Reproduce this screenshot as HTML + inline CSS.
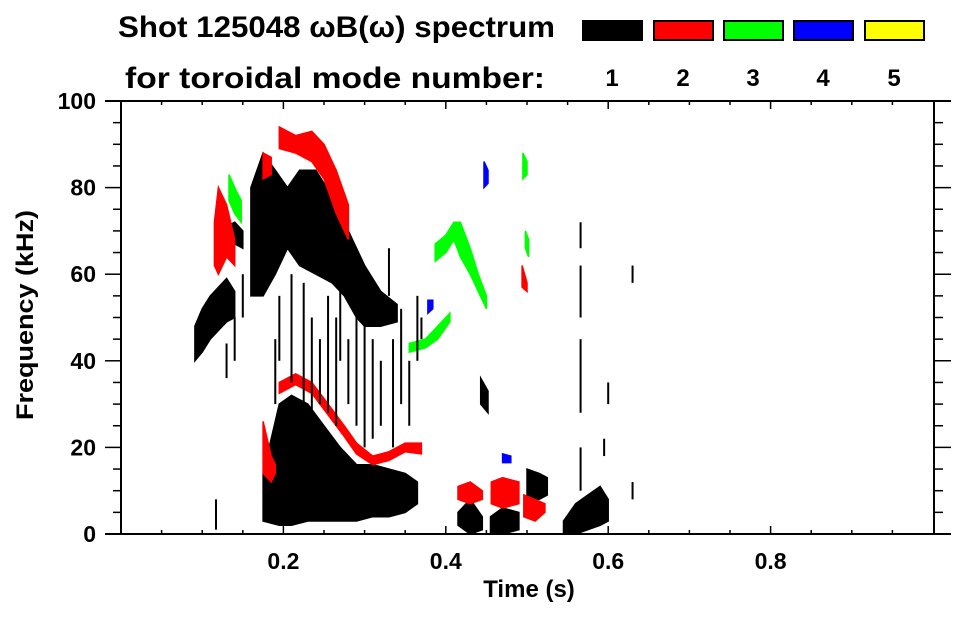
<!DOCTYPE html>
<html><head><meta charset="utf-8"><style>
html,body{margin:0;padding:0;background:#fff;}
svg text{font-family:"Liberation Sans",Arial,sans-serif;font-weight:bold;fill:#000;}
</style></head><body>
<svg id="chart" width="963" height="615" viewBox="0 0 963 615" xmlns="http://www.w3.org/2000/svg">
<text x="118" y="37" font-size="30" textLength="437" lengthAdjust="spacingAndGlyphs">Shot 125048 ωB(ω) spectrum</text>
<text x="125" y="88" font-size="30" textLength="420" lengthAdjust="spacingAndGlyphs">for toroidal mode number:</text>
<g id="legend"></g>
<g id="marks"></g>
<g id="axes"></g>
<text x="529" y="597" font-size="24" text-anchor="middle">Time (s)</text>
<text transform="translate(33,315) rotate(-90)" font-size="24" text-anchor="middle" textLength="210" lengthAdjust="spacingAndGlyphs">Frequency (kHz)</text>
</svg>
<script>
const modeColors = ["#000000","#ff0000","#00ff00","#0000ff","#ffff00"];
const modeLabels = ["1","2","3","4","5"];
const xTicks = [0.2,0.4,0.6,0.8];
const xTickLabels = ["0.2","0.4","0.6","0.8"];
const yTicks = [0,20,40,60,80,100];
const yTickLabels = ["0","20","40","60","80","100"];
// blobs: [mode, [[t, fLow, fHigh], ...]]
const blobModes = [0,0,0,0,0,0,0,0,0, 1,1,1,1,1,1,1,1,1, 2,2,2,2,2, 3,3,3];
const blobPoints = [
 [[0.091,40,48],[0.10,42,52],[0.11,45,55],[0.12,47,57],[0.13,49,59],[0.14,50,56]],
 [[0.160,55,80],[0.175,55,88],[0.19,60,84],[0.205,66,80],[0.22,62,84],[0.24,60,84],[0.26,58,78],[0.275,55,72],[0.29,50,66],[0.30,48,62],[0.32,48,56],[0.34,49,53]],
 [[0.175,3,14],[0.195,2,30],[0.21,2,32],[0.23,3,30],[0.25,3,25],[0.27,3,20],[0.29,3,16],[0.31,4,16],[0.33,4,15],[0.35,5,14],[0.365,7,12]],
 [[0.415,2,5],[0.43,0,8],[0.445,1,4]],
 [[0.455,0,4],[0.47,0,6],[0.49,1,5]],
 [[0.50,8,15],[0.515,8,14],[0.525,9,13]],
 [[0.545,0,3],[0.56,0,7],[0.575,1,9],[0.59,2,11],[0.60,3,8]],
 [[0.443,30,36],[0.452,28,33]],
 [[0.13,66,71],[0.14,67,72],[0.15,66,70]],
 [[0.115,62,72],[0.12,60,80],[0.13,64,76],[0.14,62,68]],
 [[0.195,89,94],[0.215,88,92],[0.235,86,93],[0.25,82,90],[0.265,74,84],[0.28,68,76]],
 [[0.175,82,88],[0.185,83,87]],
 [[0.195,32.5,35],[0.215,34.5,37],[0.235,32.5,35],[0.255,27.5,30],[0.275,22.5,25],[0.29,18.5,21],[0.31,16,18],[0.33,17,19],[0.35,19,21],[0.37,18.5,21]],
 [[0.175,14,26],[0.185,12,18],[0.19,14,16]],
 [[0.415,8,11],[0.43,7,12],[0.445,8,10]],
 [[0.456,7,12],[0.47,6,13],[0.49,7,12]],
 [[0.496,4,9],[0.51,3,8],[0.522,5,7]],
 [[0.494,57,62],[0.50,56,58]],
 [[0.133,77,83],[0.14,74,80],[0.148,72,77]],
 [[0.355,42,44],[0.375,43,45],[0.39,45,48],[0.405,49,51]],
 [[0.387,63,67],[0.40,65,69],[0.41,68,72],[0.418,64,72],[0.43,60,66],[0.44,56,60],[0.45,52,55]],
 [[0.495,82,88],[0.50,83,86]],
 [[0.498,66,70],[0.502,64,68]],
 [[0.447,80,86],[0.452,81,84]],
 [[0.378,51,54],[0.384,52,54]],
 [[0.47,16.5,18.5],[0.48,16.5,18]]
];
// streaks: [t, fLow, fHigh] mode 1
const streakT =  [0.195,0.21,0.225,0.235,0.245,0.255,0.265,0.28,0.29,0.30,0.31,0.32,0.335,0.345,0.355,0.365,0.19,0.13,0.117,0.566,0.566,0.566,0.566,0.63,0.63,0.60,0.595,0.14,0.15,0.27,0.33,0.37];
const streakLo = [40,35,30,25,30,28,25,30,25,20,22,25,20,30,25,40,30,36,1,10,28,50,66,58,8,30,18,40,50,40,55,45];
const streakHi = [55,60,58,50,45,55,50,45,50,48,45,40,45,52,40,55,45,44,8,20,45,62,72,62,12,35,22,50,60,58,66,50];

const svgNS="http://www.w3.org/2000/svg";
const X0=121,X1=934,Y0=534,Y1=101;
const xs=t=>X0+t*812;
const ys=f=>Y0-f*(Y0-Y1)/100;
const marks=document.getElementById('marks');
const axes=document.getElementById('axes');
const legend=document.getElementById('legend');
function mk(tag,attrs,parent){const e=document.createElementNS(svgNS,tag);for(const k in attrs)e.setAttribute(k,attrs[k]);parent.appendChild(e);return e;}

// legend
const lx=[582,653,723,793,864];
modeColors.forEach((c,i)=>{
  const r=mk('rect',{x:lx[i]+1,y:21,width:59,height:19,fill:c,stroke:'#000','stroke-width':2},legend);
  
  
  const t=mk('text',{x:lx[i]+30,y:86,'font-size':24,'text-anchor':'middle'},legend);
  t.textContent=modeLabels[i];
  
  
});

// blobs
blobPoints.forEach((pts,i)=>{
  const top=pts.map(p=>xs(p[0]).toFixed(1)+','+ys(p[2]).toFixed(1));
  const bot=pts.slice().reverse().map(p=>xs(p[0]).toFixed(1)+','+ys(p[1]).toFixed(1));
  const p=mk('polygon',{points:top.concat(bot).join(' '),fill:modeColors[blobModes[i]],stroke:modeColors[blobModes[i]],'stroke-width':1.5},marks);
  
  
});
// streaks
streakT.forEach((t,i)=>{
  const r=mk('rect',{x:xs(t)-1,y:ys(streakHi[i]),width:2,height:ys(streakLo[i])-ys(streakHi[i]),fill:'#000'},marks);
  
  
});

// axes frame
[[105,Y1,951,Y1],[105,Y0,951,Y0],[X0,Y1,X0,Y0],[X1,Y1,X1,Y0]].forEach(l=>{
  const e=mk('line',{x1:l[0],y1:l[1],x2:l[2],y2:l[3],stroke:'#000','stroke-width':2},axes);
  
  
});
// x ticks (inward, minor every 0.05)
for(let k=1;k<20;k++){
  const t=k*0.05,x=xs(t),maj=(k%4===0);
  const len=maj?8:4;
  mk('line',{x1:x,y1:Y0,x2:x,y2:Y0-len,stroke:'#000','stroke-width':1.5},axes);
  mk('line',{x1:x,y1:Y1,x2:x,y2:Y1+len,stroke:'#000','stroke-width':1.5},axes);
}
xTicks.forEach((t,i)=>{
  const e=mk('text',{x:xs(t),y:569,'font-size':23,'text-anchor':'middle'},axes);
  e.textContent=xTickLabels[i];
  
  
});
// y ticks (outward, minor every 5)
for(let k=1;k<20;k++){
  const y=ys(k*5),maj=(k%4===0);
  mk('line',{x1:X0,y1:y,x2:X0-(maj?16:8),y2:y,stroke:'#000','stroke-width':1.5},axes);
  mk('line',{x1:X1,y1:y,x2:X1+(maj?17:9),y2:y,stroke:'#000','stroke-width':1.5},axes);
}
yTicks.forEach((f,i)=>{
  const e=mk('text',{x:96,y:ys(f)+8,'font-size':23,'text-anchor':'end'},axes);
  e.textContent=yTickLabels[i];
  
  
});
</script>
</body></html>
